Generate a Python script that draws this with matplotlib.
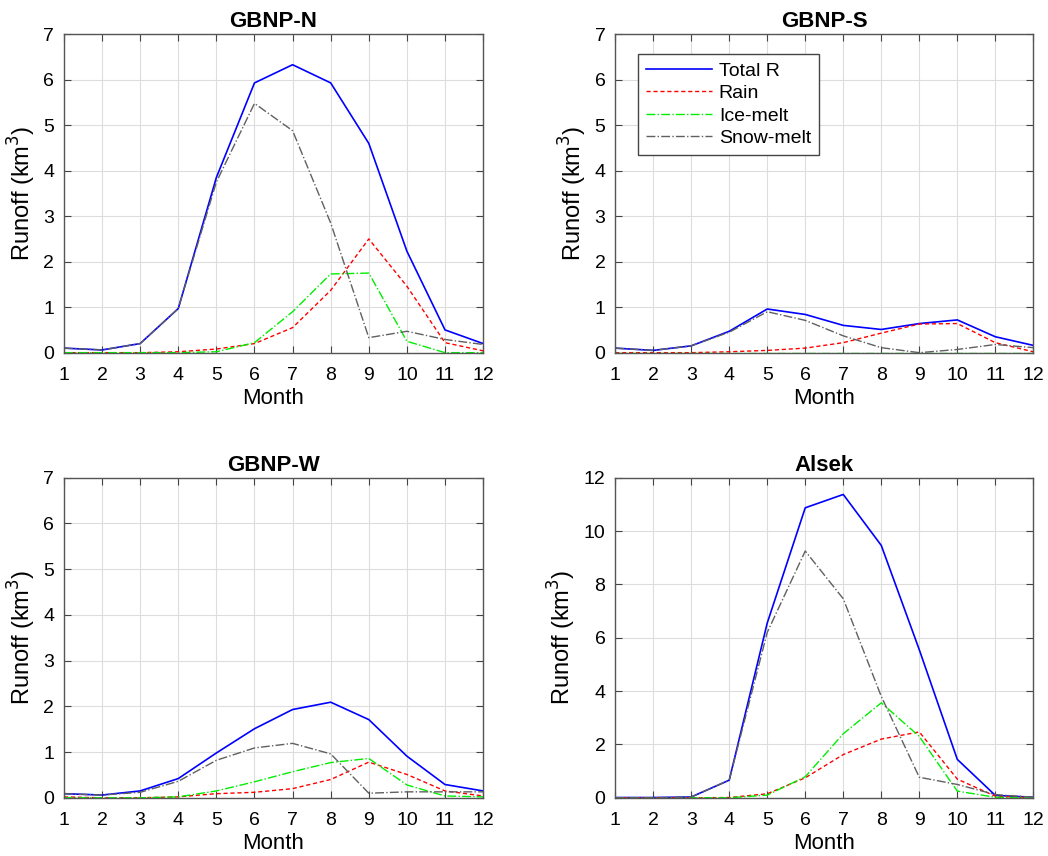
import numpy as np
import matplotlib
matplotlib.use("Agg")
import matplotlib.pyplot as plt

plt.rcParams['font.family'] = ['Liberation Sans', 'DejaVu Sans']

months = np.arange(1, 13)

# GBNP-N
n_total = [0.10, 0.06, 0.20, 0.97, 3.85, 5.93, 6.33, 5.93, 4.60, 2.23, 0.50, 0.20]
n_rain = [0.0, 0.0, 0.0, 0.02, 0.08, 0.20, 0.55, 1.37, 2.50, 1.46, 0.22, 0.04]
n_ice = [0.0, 0.0, 0.0, 0.0, 0.02, 0.22, 0.90, 1.73, 1.75, 0.25, 0.0, 0.0]
n_snow = [0.10, 0.06, 0.20, 0.97, 3.75, 5.48, 4.88, 2.85, 0.33, 0.47, 0.29, 0.18]

# GBNP-S
s_total = [0.10, 0.05, 0.15, 0.47, 0.96, 0.84, 0.60, 0.51, 0.64, 0.72, 0.35, 0.16]
s_rain = [0.0, 0.0, 0.0, 0.02, 0.05, 0.10, 0.22, 0.43, 0.63, 0.64, 0.22, 0.02]
s_ice = [0.0] * 12
s_snow = [0.10, 0.05, 0.15, 0.45, 0.90, 0.71, 0.37, 0.11, 0.0, 0.07, 0.18, 0.11]

# GBNP-W
w_total = [0.09, 0.06, 0.15, 0.42, 0.98, 1.51, 1.93, 2.09, 1.71, 0.91, 0.29, 0.15]
w_rain = [0.02, 0.0, 0.0, 0.02, 0.09, 0.12, 0.20, 0.40, 0.78, 0.51, 0.15, 0.04]
w_ice = [0.0, 0.0, 0.0, 0.02, 0.15, 0.35, 0.57, 0.77, 0.86, 0.28, 0.04, 0.02]
w_snow = [0.09, 0.06, 0.12, 0.36, 0.82, 1.09, 1.19, 0.96, 0.10, 0.13, 0.13, 0.13]

# Alsek
a_total = [0.01, 0.01, 0.03, 0.66, 6.55, 10.87, 11.37, 9.46, 5.55, 1.44, 0.09, 0.02]
a_rain = [0.0, 0.0, 0.0, 0.01, 0.15, 0.75, 1.62, 2.20, 2.47, 0.70, 0.06, 0.0]
a_ice = [0.0, 0.0, 0.0, 0.0, 0.10, 0.79, 2.40, 3.56, 2.30, 0.25, 0.02, 0.0]
a_snow = [0.0, 0.0, 0.03, 0.66, 6.20, 9.25, 7.46, 3.80, 0.77, 0.50, 0.12, 0.02]

panels = [
    ("GBNP-N", n_total, n_rain, n_ice, n_snow, 7, 1, [0.061, 0.588, 0.400, 0.372]),
    ("GBNP-S", s_total, s_rain, s_ice, s_snow, 7, 1, [0.587, 0.588, 0.399, 0.372]),
    ("GBNP-W", w_total, w_rain, w_ice, w_snow, 7, 1, [0.061, 0.068, 0.400, 0.374]),
    ("Alsek", a_total, a_rain, a_ice, a_snow, 12, 2, [0.587, 0.068, 0.399, 0.374]),
]

fig = plt.figure(figsize=(10.48, 8.56), dpi=100)

for title, tot, rain, ice, snow, ymax, ystep, pos in panels:
    ax = fig.add_axes(pos)
    ax.plot(months, tot, '-', color='#0000ff', lw=1.2, label='Total R')
    ax.plot(months, rain, '--', color='#ff0000', lw=1.0, dashes=(3, 2), label='Rain')
    ax.plot(months, ice, '-.', color='#00ee00', lw=1.0, label='Ice-melt')
    ax.plot(months, snow, '-.', color='#606060', lw=1.0, label='Snow-melt')
    ax.set_xlim(1, 12)
    ax.set_ylim(0, ymax)
    ax.set_xticks(months)
    ax.set_yticks(np.arange(0, ymax + 1, ystep))
    ax.grid(True, color='#dddddd', lw=0.8)
    ax.set_axisbelow(True)
    ax.tick_params(direction='in', labelsize=14, top=True, right=True,
                   length=5, color='#444444')
    ax.tick_params(axis='x', pad=10)
    ax.tick_params(axis='y', pad=7)
    for sp in ax.spines.values():
        sp.set_color('#555555')
        sp.set_linewidth(1.0)
    ax.set_title(title, fontsize=16, fontweight='bold', pad=5)
    ax.set_xlabel('Month', fontsize=16, labelpad=3)
    ax.set_ylabel('Runoff (km$^3$)', fontsize=17, labelpad=4)
    if title == "GBNP-S":
        leg = ax.legend(loc='upper left', bbox_to_anchor=(0.055, 0.937),
                        fontsize=14, fancybox=False, edgecolor='#444444',
                        framealpha=1, borderaxespad=0, handlelength=3.4,
                        handletextpad=0.35, labelspacing=0.25, borderpad=0.4)
        leg.get_frame().set_linewidth(1.0)

fig.savefig('out.png', dpi=100)
